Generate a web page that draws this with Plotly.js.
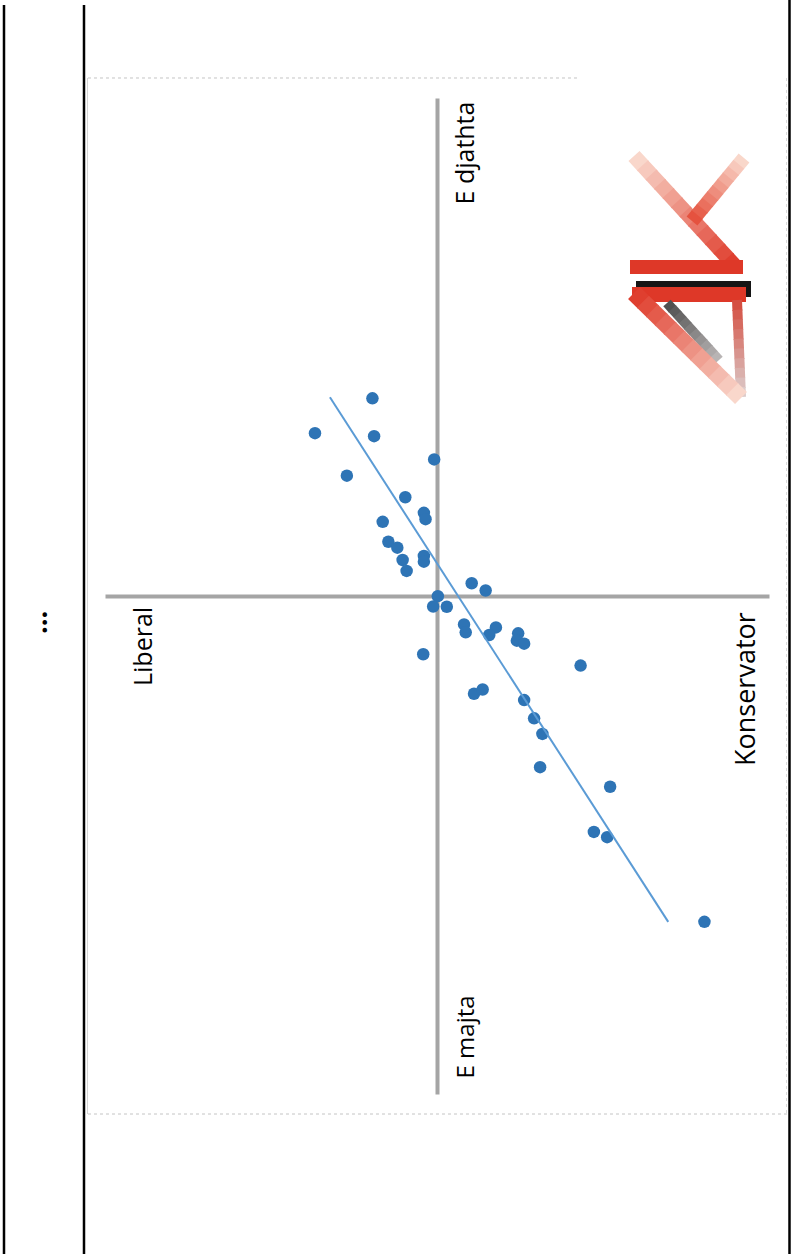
<!DOCTYPE html>
<html><head><meta charset="utf-8">
<script src="https://cdn.plot.ly/plotly-3.0.1.min.js"></script>
<style>html,body{margin:0;padding:0;background:#fff;}</style>
</head><body><div id="chart" style="width:792px;height:1254px;"></div>
<script>
// x: Liberal (-) <-> Konservator (+) ; y: E majta (-) <-> E djathta (+)
const konservatorScore = [-1.96,-3.69,-1.91,-0.10,-2.73,-0.97,-0.41,-0.36,-1.65,-1.48,
  -1.21,-0.41,-0.41,-1.05,-0.93,1.03,1.45,0.01,-0.13,0.28,
  0.80,0.85,1.76,1.56,2.43,2.39,2.61,-0.43,4.31,1.10,
  1.36,2.61,2.91,3.16,3.09,5.20,4.71,5.11,8.04];
const djathtaScore = [5.97,4.92,4.83,4.13,3.64,2.99,2.52,2.33,2.25,1.65,
  1.47,1.22,1.05,1.10,0.77,0.40,0.18,0.01,-0.30,-0.31,
  -0.84,-1.08,-0.93,-1.16,-1.11,-1.33,-1.42,-1.74,-2.08,-2.93,
  -2.80,-3.12,-3.67,-4.14,-5.14,-5.73,-7.09,-7.25,-9.80];
const trendX = [-3.24, 6.95];
const trendY = [6.00, -9.80];
const crossXExtent = [-10, 10];
const crossYExtent = [-15, 15];
const labelTop = "E djathta";
const labelBottom = "E majta";
const labelLeft = "Liberal";
const labelRight = "Konservator";

const W = 792, H = 1254, S = 33.2, OX = 437.5, OY = 596.5;
const xRange = [-OX / S, (W - OX) / S];
const yRange = [(OY - H) / S, OY / S];

function pp(x, y) { return [(x / W).toFixed(5), (1 - y / H).toFixed(5)]; }
function poly(pts) { return 'M' + pts.map(p => pp(p[0], p[1]).join(',')).join('L') + 'Z'; }
function lineShape(x0, y0, x1, y1, color, width, dash) {
  const a = pp(x0, y0), b = pp(x1, y1);
  return {type: 'line', xref: 'paper', yref: 'paper', x0: +a[0], y0: +a[1], x1: +b[0], y1: +b[1],
    line: {color: color, width: width, dash: dash || 'solid'}};
}
function mix(c0, c1, t) { return 'rgb(' + c0.map((v, i) => Math.round(v + (c1[i] - v) * t)).join(',') + ')'; }
function barPts(x1, y1, x2, y2, w) {
  const dx = x2 - x1, dy = y2 - y1, L = Math.hypot(dx, dy);
  const nx = -dy / L * w / 2, ny = dx / L * w / 2;
  return [[x1 + nx, y1 + ny], [x2 + nx, y2 + ny], [x2 - nx, y2 - ny], [x1 - nx, y1 - ny]];
}
function fadeBar(x1, y1, x2, y2, w, c0, c1, n) {
  const out = [];
  for (let i = 0; i < n; i++) {
    const t0 = i / n, t1 = (i + 1) / n + 0.01;
    const ax = x1 + (x2 - x1) * t0, ay = y1 + (y2 - y1) * t0;
    const bx = x1 + (x2 - x1) * Math.min(t1, 1), by = y1 + (y2 - y1) * Math.min(t1, 1);
    out.push({type: 'path', xref: 'paper', yref: 'paper', path: poly(barPts(ax, ay, bx, by, w)),
      fillcolor: mix(c0, c1, (i + 0.5) / n), line: {width: 0}, layer: 'above'});
  }
  return out;
}
function rect(x0, y0, x1, y1, color) {
  return {type: 'path', xref: 'paper', yref: 'paper', path: poly([[x0, y0], [x1, y0], [x1, y1], [x0, y1]]),
    fillcolor: color, line: {width: 0}, layer: 'above'};
}

const RED = [222, 56, 40], PALE = [250, 222, 210], GRAY = [125, 125, 125], PALEG = [220, 210, 210];
let shapes = [
  // frame
  lineShape(4, 5, 4, H, '#000', 2.5),
  lineShape(84, 5, 84, H, '#000', 2.5),
  lineShape(789.5, 0, 789.5, H, '#000', 2.5),
  lineShape(88, 78, 578, 78, '#c4c4c4', 1, 'dot'),
  lineShape(87.5, 78, 87.5, 1114, '#d4d4d4', 1),
  lineShape(88, 1114, 788, 1114, '#c4c4c4', 1, 'dot'),
  lineShape(786.5, 78, 786.5, 1114, '#dadada', 1, 'dot'),
  // crosshair
  {type: 'line', xref: 'x', yref: 'y', x0: 0, x1: 0, y0: crossYExtent[0], y1: crossYExtent[1],
    line: {color: '#a5a5a5', width: 4}, layer: 'below'},
  {type: 'line', xref: 'x', yref: 'y', x0: crossXExtent[0], x1: crossXExtent[1], y0: 0, y1: 0,
    line: {color: '#a5a5a5', width: 4}, layer: 'below'}
];
// logo
shapes = shapes.concat(
  fadeBar(634, 156, 736, 267, 15, PALE, RED, 12),
  fadeBar(744, 158, 692, 221, 14, PALE, [228, 75, 55], 10),
  [rect(630, 260, 743, 274, 'rgb(222,56,40)'),
   rect(636, 281, 751, 297, '#151515'),
   rect(632, 287, 746, 302, 'rgb(222,56,40)')],
  fadeBar(737, 300, 741, 397, 10, [212, 72, 58], PALEG, 10),
  fadeBar(667, 303, 719, 360, 10, [75, 75, 75], [190, 185, 185], 10),
  fadeBar(634, 293, 741, 398, 17, RED, PALE, 12)
);

const data = [
  {type: 'scatter', mode: 'markers', x: konservatorScore, y: djathtaScore,
   marker: {color: '#2e74b5', size: 12.5}, hoverinfo: 'skip'},
  {type: 'scatter', mode: 'lines', x: trendX, y: trendY,
   line: {color: '#5b9bd5', width: 2}, hoverinfo: 'skip'}
];

function ann(text, px, py, size, weight) {
  const a = pp(px, py);
  return {text: text, xref: 'paper', yref: 'paper', x: +a[0], y: +a[1], xanchor: 'center', yanchor: 'middle',
    textangle: -90, showarrow: false,
    font: {family: 'Open Sans, Noto Sans, sans-serif', size: size, color: '#000', weight: weight || 400}};
}

const layout = {
  width: W, height: H, margin: {l: 0, r: 0, t: 0, b: 0},
  paper_bgcolor: '#fff', plot_bgcolor: '#fff', showlegend: false,
  xaxis: {range: xRange, visible: false, showgrid: false, zeroline: false, fixedrange: true},
  yaxis: {range: yRange, visible: false, showgrid: false, zeroline: false, fixedrange: true},
  shapes: shapes,
  annotations: [
    ann(labelTop, 463, 153.5, 25),
    ann(labelBottom, 464, 1037.5, 24),
    ann(labelLeft, 142, 646, 25),
    ann(labelRight, 745, 689, 27),
    ann('...', 37, 623, 27, 700)
  ]
};

Plotly.newPlot('chart', data, layout, {displayModeBar: false, staticPlot: true});
</script>
</body></html>
